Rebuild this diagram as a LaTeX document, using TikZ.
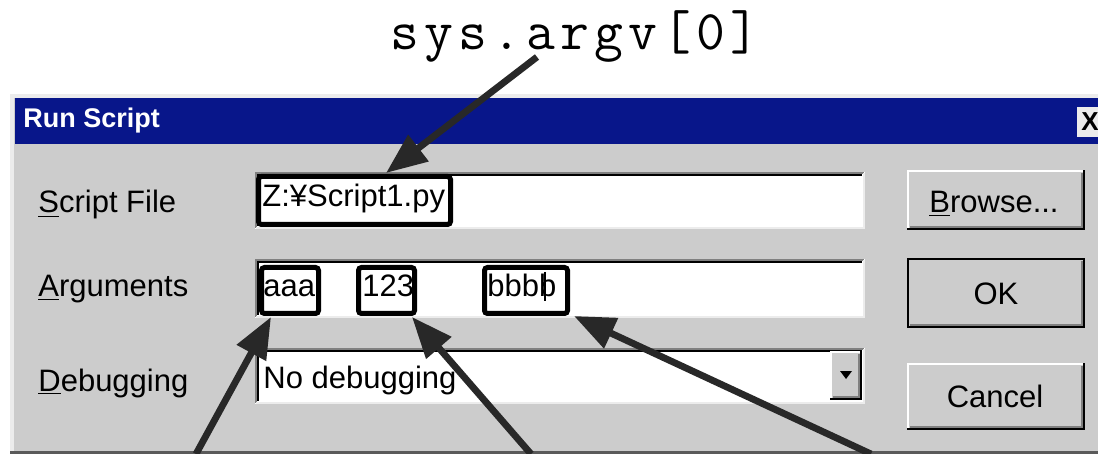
\documentclass[tikz,border=0pt]{standalone}
\usepackage{fontspec}
\setmainfont{Liberation Sans}
\usetikzlibrary{arrows.meta,calc}

\definecolor{dlg}{RGB}{204,204,204}
\definecolor{dlgedge}{RGB}{236,236,236}
\definecolor{titleblue}{RGB}{8,22,138}
\definecolor{btnshadow}{RGB}{128,128,128}
\definecolor{arrowgray}{RGB}{40,40,40}

% raised Windows-style push button
\newcommand\winbutton[4]{%
  \fill[dlg] (#1,#2) rectangle (#3,#4);
  \draw[white, line width=1pt] (#1+1,#4-1) -- (#1+1,#2+1) -- (#3-1,#2+1);
  \draw[btnshadow, line width=1pt] (#1+3,#4-3) -- (#3-3,#4-3) -- (#3-3,#2+3);
  \draw[black, line width=1pt] (#1,#4-1) -- (#3-1,#4-1) -- (#3-1,#2);
}
% sunken edit field
\newcommand\winfield[4]{%
  \fill[white] (#1,#2) rectangle (#3,#4);
  \draw[btnshadow, line width=1pt] (#1+1,#4-1) -- (#1+1,#2+1) -- (#3-1,#2+1);
  \draw[black, line width=1pt] (#1+3,#4-3) -- (#1+3,#2+3) -- (#3-3,#2+3);
  \draw[dlgedge, line width=1pt] (#1+1,#4-1) -- (#3-1,#4-1) -- (#3-1,#2+1);
}
% one monospaced cell of the caption, widely spaced
\newcommand\codecell[1]{\makebox[17pt][c]{#1}}

\tikzset{
  uitext/.style={inner sep=0pt, anchor=base west, font=\fontsize{15.5}{18}\selectfont},
  fieldtext/.style={inner sep=0pt, anchor=base west, font=\fontsize{15.5}{18}\selectfont},
  btntext/.style={inner sep=0pt, anchor=base, font=\fontsize{15.5}{18}\selectfont},
  hlbox/.style={draw=black, line width=2.5pt, rounded corners=1.5pt, inner sep=0pt},
  pointer/.style={draw=arrowgray, line width=3.4pt,
    -{Triangle[length=20.5pt,width=16pt]}},
}

\begin{document}
\begin{tikzpicture}[x=0.5pt,y=-0.5pt]
\useasboundingbox (0,0) rectangle (1098,454);
\fill[white] (0,0) rectangle (1098,454);

% dialog frame and body
\fill[dlgedge] (10,94) rectangle (1098,454);
\fill[dlg] (14,98) rectangle (1098,451);
\fill[btnshadow!70!black] (10,451) rectangle (1098,454);

% title bar
\fill[titleblue] (15,98) rectangle (1098,144);
\node[inner sep=0pt, anchor=base west, text=white,
      font=\bfseries\fontsize{13.5}{16}\selectfont] (title) at (23,128) {Run Script};
\fill[dlgedge] (1077,107) rectangle (1098,137);
\node[inner sep=0pt, font=\bfseries\fontsize{13}{15}\selectfont] (close) at (1090,122) {X};

% labels
\node[uitext] (lscript) at (38,213) {\underline{S}cript File};
\node[uitext] (largs)   at (38,297) {\underline{A}rguments};
\node[uitext] (ldebug)  at (38,391) {\underline{D}ebugging};

% fields
\winfield{255}{172}{865}{229}
\winfield{255}{259}{865}{318}
\winfield{255}{348}{865}{404}
\winbutton{830}{351}{862}{400}
\fill[black] (840,371) -- (852,371) -- (846,379) -- cycle;

\node[fieldtext] (fscript) at (262,207) {Z:¥Script1.py};
\node[fieldtext] (farg1) at (263,297) {aaa};
\node[fieldtext] (farg2) at (362,297) {123};
\node[fieldtext] (farg3) at (487,297) {bbbb};
\draw[black, line width=0.6pt] (545,272) -- (545,301);
\node[fieldtext] (fdebug) at (263,388) {No debugging};

% buttons
\winbutton{907}{170}{1085}{230}
\node[btntext] (browse) at (994,213) {\underline{B}rowse...};
\winbutton{907}{258}{1085}{328}
\draw[black, line width=1pt] (908,259) rectangle (1084,327);
\node[btntext] (ok) at (996,305) {OK};
\winbutton{907}{363}{1085}{430}
\node[btntext] (cancel) at (995,408) {Cancel};

% highlight frames
\node[hlbox, minimum width=96pt, minimum height=24pt] (sbox) at (354.5,200.5) {};
\node[hlbox, minimum width=28.5pt, minimum height=23pt] (abox) at (290,290.5) {};
\node[hlbox, minimum width=28pt, minimum height=23pt] (nbox) at (386.5,290.5) {};
\node[hlbox, minimum width=41.5pt, minimum height=23pt] (bbox) at (526,290.5) {};

% caption
\node[inner sep=0pt, anchor=base, font=\ttfamily\fontsize{28}{32}\selectfont]
      (argv) at (575,50)
      {\codecell{s}\codecell{y}\codecell{s}\codecell{.}\codecell{a}\codecell{r}\codecell{g}\codecell{v}\codecell{[}\codecell{0}\codecell{]}};

% pointers
\coordinate (p1) at (196,454);
\coordinate (p2) at (531,454);
\coordinate (p3) at (871,454);
\draw[pointer] ($(argv.base)+(-38,7)$) -- ($(sbox.north west)+(130,-1)$);
\draw[pointer] (p1) -- ($(abox.south west)+(12,1)$);
\draw[pointer] (p2) -- ($(nbox.south east)+(-5,1)$);
\draw[pointer] (p3) -- ($(bbox.south east)+(4,0)$);
\end{tikzpicture}
\end{document}
